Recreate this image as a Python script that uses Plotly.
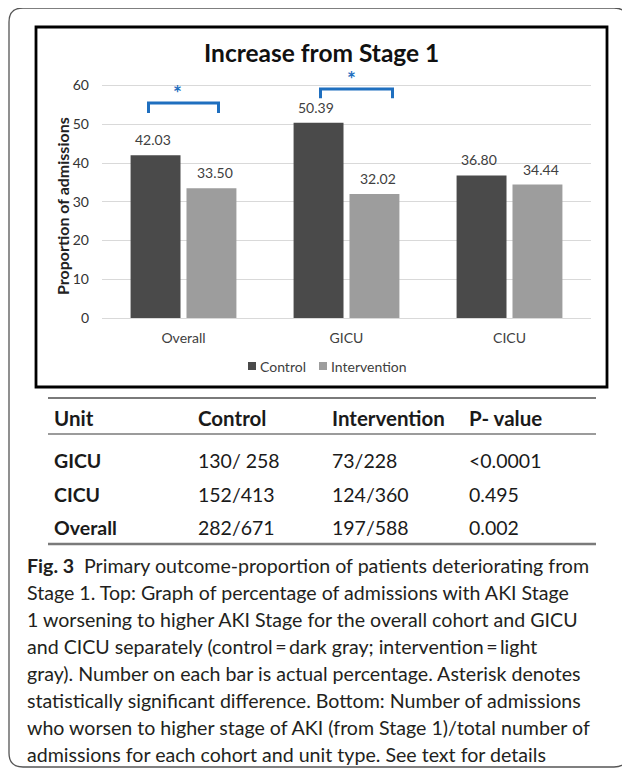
import plotly.graph_objects as go

# ---------------- data ----------------
categories = ["Overall", "GICU", "CICU"]
series_names = ["Control", "Intervention"]
control_values = [42.03, 50.39, 36.80]
intervention_values = [33.50, 32.02, 34.44]
y_ticks = [0, 10, 20, 30, 40, 50, 60]
significant = [True, True, False]

table_header = ["Unit", "Control", "Intervention", "P- value"]
table_units = ["GICU", "CICU", "Overall"]
table_control = ["130/ 258", "152/413", "282/671"]
table_intervention = ["73/228", "124/360", "197/588"]
table_pvalue = ["<0.0001", "0.495", "0.002"]

chart_title = "Increase from Stage 1"
y_title = "Proportion of admissions"
caption_lines = [
    "<b>Fig. 3</b>\u2002Primary outcome-proportion of patients deteriorating from",
    "Stage 1. Top: Graph of percentage of admissions with AKI Stage",
    "1 worsening to higher AKI Stage for the overall cohort and GICU",
    "and CICU separately (control\u2009=\u2009dark gray; intervention\u2009=\u2009light",
    "gray). Number on each bar is actual percentage. Asterisk denotes",
    "statistically significant difference. Bottom: Number of admissions",
    "who worsen to higher stage of AKI (from Stage 1)/total number of",
    "admissions for each cohort and unit type. See text for details",
]

# ---------------- layout constants (page pixel coords) ----------------
OFF = 8                      # default body margin of the html page
W, H = 630 - OFF, 770 - OFF  # figure size
P_LEFT, P_RIGHT, P_TOP, P_BOT = 102, 591, 70, 318   # plot area on the page
L = P_LEFT - OFF
T = P_TOP - OFF
R = W - (P_RIGHT - OFF)
B = H - (P_BOT - OFF)
PW, PH = P_RIGHT - P_LEFT, P_BOT - P_TOP

def px(x):
    return (x - P_LEFT) / PW

def py(y):
    return (P_BOT - y) / PH

CTRL_COLOR = "#4a4a4a"
INT_COLOR = "#9d9d9d"
TXT = "#404040"
BLUE = "#1f6fbf"
CHART_FONT = "Lato"
CAP_FONT = "Lato"

fig = go.Figure()
fig.add_bar(x=categories, y=control_values, name=series_names[0],
            marker=dict(color=CTRL_COLOR, line=dict(width=0)), showlegend=False)
fig.add_bar(x=categories, y=intervention_values, name=series_names[1],
            marker=dict(color=INT_COLOR, line=dict(width=0)), showlegend=False)

annotations = []
shapes = []

def note(x, y, text, size, color, family=CHART_FONT, xanchor="center", **kw):
    annotations.append(dict(x=x, y=y, xref="paper", yref="paper",
                            xanchor=xanchor, yanchor="middle", showarrow=False,
                            text=text, font=dict(family=family, size=size,
                                                 color=color), **kw))

# value labels above bars
cat_w = PW / len(categories)
bar_off = 31
for i, c in enumerate(categories):
    for vals, sh in ((control_values, -bar_off), (intervention_values, bar_off)):
        annotations.append(dict(x=c, y=vals[i], xref="x", yref="y", xshift=sh,
                                yshift=5, xanchor="center", yanchor="bottom",
                                showarrow=False, text=f"{vals[i]:.2f}",
                                font=dict(family=CHART_FONT, size=14, color=TXT)))

# significance brackets (pixel offsets from category centre)
bracket_geom = {0: (-35, 35, 55.5, 52.9, -6, 59.6),
                1: (-26, 46, 59.1, 56.7, 5, 63.2)}
for i, sig in enumerate(significant):
    if not sig:
        continue
    cx = P_LEFT + (i + 0.5) * cat_w
    x0, x1, ytop, ybot, sx, sy = bracket_geom[i]
    path = (f"M{px(cx + x0)},{ybot} L{px(cx + x0)},{ytop} "
            f"L{px(cx + x1)},{ytop} L{px(cx + x1)},{ybot}")
    shapes.append(dict(type="path", xref="paper", yref="y", path=path,
                       line=dict(color=BLUE, width=3)))
    annotations.append(dict(x=px(cx + sx), y=sy, xref="paper", yref="y",
                            xanchor="center", yanchor="middle",
                            yshift=-5, showarrow=False, text="<b>*</b>",
                            font=dict(family=CHART_FONT, size=21, color=BLUE)))

# title and y-axis title
note(px(321.5), py(53), f"<b>{chart_title}</b>", 24.5, "#111111")
note(px(62), py(206), f"<b>{y_title}</b>", 16, "#222222", textangle=-90)

# legend (manual)
leg_items = [(248, series_names[0], CTRL_COLOR), (319, series_names[1], INT_COLOR)]
for x0, name, col in leg_items:
    shapes.append(dict(type="rect", xref="paper", yref="paper",
                       x0=px(x0), x1=px(x0 + 8), y0=py(370), y1=py(362),
                       fillcolor=col, line=dict(width=0)))
    note(px(x0 + 10), py(366), name, 14, TXT, xanchor="left")

# chart box
shapes.append(dict(type="rect", xref="paper", yref="paper",
                   x0=px(36), x1=px(607), y0=py(387), y1=py(27),
                   line=dict(color="#000000", width=2.8)))

# outer rounded frame
fl, ft, fr, fb, rad = 9, 8, 628, 767, 14
frame = (f"M{px(fl)},{py(ft + rad)} Q{px(fl)},{py(ft)} {px(fl + rad)},{py(ft)} "
         f"L{px(fr - rad)},{py(ft)} Q{px(fr)},{py(ft)} {px(fr)},{py(ft + rad)} "
         f"L{px(fr)},{py(fb - rad)} Q{px(fr)},{py(fb)} {px(fr - rad)},{py(fb)} "
         f"L{px(fl + rad)},{py(fb)} Q{px(fl)},{py(fb)} {px(fl)},{py(fb - rad)} Z")
shapes.append(dict(type="path", xref="paper", yref="paper", path=frame,
                   line=dict(color="#555555", width=1.3)))

# table
for yl, wdt in ((398, 2.2), (434, 1.5), (544, 2.5)):
    shapes.append(dict(type="line", xref="paper", yref="paper",
                       x0=px(48), x1=px(596), y0=py(yl), y1=py(yl),
                       line=dict(color="#7a7a7a", width=wdt)))
col_x = [52, 196, 330, 467]
row_y = [460, 494, 527]
for cx, h in zip(col_x, table_header):
    note(px(cx), py(418), f"<b>{h}</b>", 20.5, "#1a1a1a", xanchor="left")
for r, ry in enumerate(row_y):
    cells = [f"<b>{table_units[r]}</b>", table_control[r],
             table_intervention[r], table_pvalue[r]]
    for cx, txt in zip(col_x, cells):
        note(px(cx), py(ry), txt, 19.5, "#1a1a1a", xanchor="left")

# caption
for k, line in enumerate(caption_lines):
    note(px(25), py(565 + k * 27.1), line, 19.6, "#231f20", family=CAP_FONT,
         xanchor="left")

fig.update_layout(
    width=W, height=H,
    margin=dict(l=L, r=R, t=T, b=B, pad=0),
    paper_bgcolor="white", plot_bgcolor="white",
    barmode="group", bargap=0.314, bargroupgap=0.107,
    showlegend=False,
    xaxis=dict(showgrid=False, showline=False, ticks="", zeroline=False,
               tickfont=dict(family=CHART_FONT, size=14, color=TXT),
               ticklabelstandoff=10),
    yaxis=dict(range=[0, 64], tickvals=y_ticks, showgrid=True,
               gridcolor="#d9d9d9", gridwidth=1, zeroline=True,
               zerolinecolor="#d9d9d9", zerolinewidth=1, showline=False,
               ticks="", ticklabelstandoff=12,
               tickfont=dict(family=CHART_FONT, size=14, color="#333333")),
    shapes=shapes, annotations=annotations,
)

fig.write_html("out.html")
